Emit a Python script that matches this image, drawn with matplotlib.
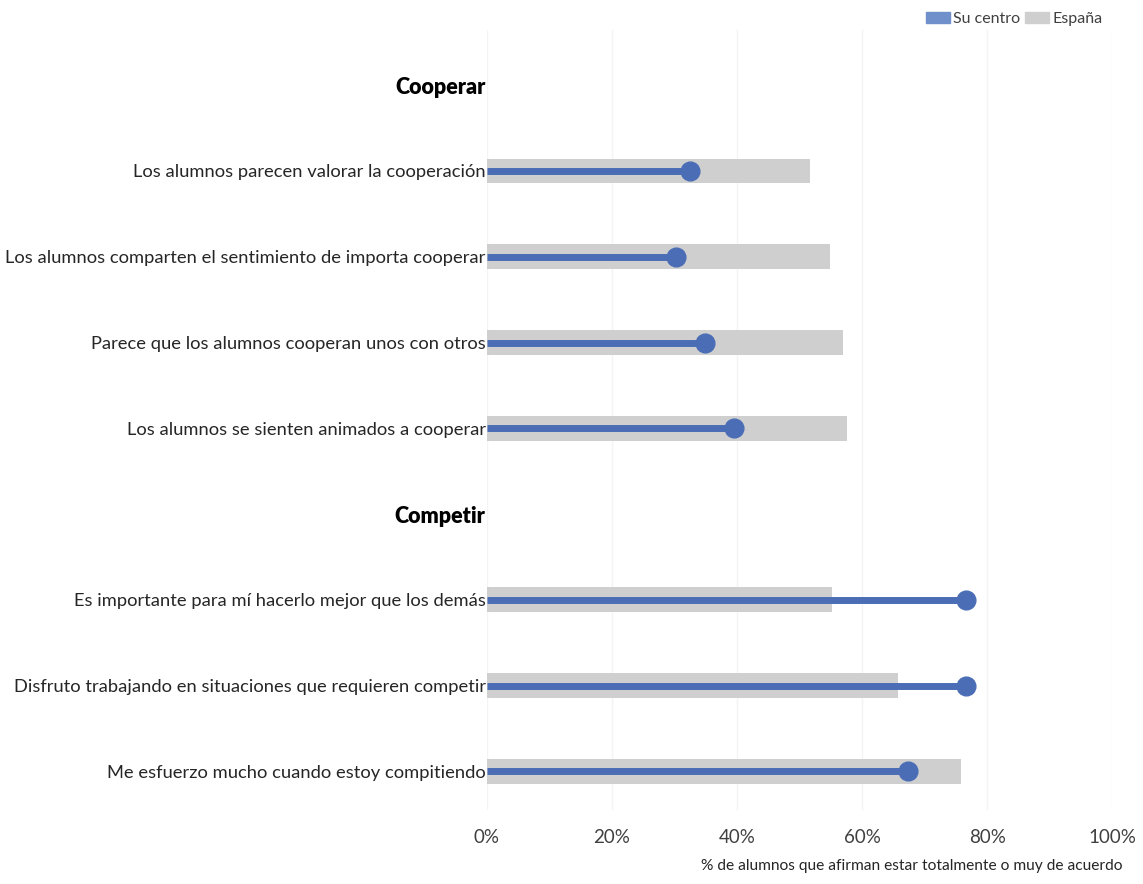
import matplotlib.pyplot as plt
import matplotlib.patches as mpatches
from matplotlib.ticker import PercentFormatter

plt.rcParams['font.family'] = ['Lato', 'DejaVu Sans']

# one slot per row, headers have no data
labels = ['Cooperar',
          'Los alumnos parecen valorar la cooperación',
          'Los alumnos comparten el sentimiento de importa cooperar',
          'Parece que los alumnos cooperan unos con otros',
          'Los alumnos se sienten animados a cooperar',
          'Competir',
          'Es importante para mí hacerlo mejor que los demás',
          'Disfruto trabajando en situaciones que requieren competir',
          'Me esfuerzo mucho cuando estoy compitiendo']
headers = ['Cooperar', 'Competir']
espana = [None, 51.7, 54.9, 57.0, 57.6, None, 55.2, 65.8, 75.8]
centro = [None, 32.5, 30.2, 34.9, 39.5, None, 76.6, 76.6, 67.4]
xticks = [0, 20, 40, 60, 80, 100]

blue = '#4A6DB5'
grey = '#CFCFCF'
text_col = '#262626'

fig = plt.figure(figsize=(11.43, 8.84), dpi=100)
ax = fig.add_axes([0.426, 0.0837, 0.547, 0.882])

rows = [i for i, v in enumerate(espana) if v is not None]
ax.barh(rows, [espana[i] for i in rows], height=0.29, color=grey, zorder=2)
ax.hlines(rows, 0, [centro[i] for i in rows], color=blue, lw=5, zorder=3)
ax.plot([centro[i] for i in rows], rows, 'o', color=blue, ms=13.5, zorder=4)

ax.set_xlim(0, 100)
ax.set_ylim(8.45, -0.64)
ax.set_xticks(xticks)
ax.xaxis.set_major_formatter(PercentFormatter(decimals=0))
ax.set_yticks(range(len(labels)))
ax.set_yticklabels(labels)
for t in ax.get_yticklabels():
    if t.get_text() in headers:
        t.set_fontweight('heavy')
        t.set_fontsize(15.5)
        t.set_color('black')
    else:
        t.set_fontsize(13.2)
        t.set_color(text_col)
ax.tick_params(axis='y', length=0, pad=1)
ax.tick_params(axis='x', length=0, pad=14, labelsize=13.5, labelcolor='#404040')

ax.grid(axis='x', color='#F4F4F4', lw=1, zorder=0)
for s in ax.spines.values():
    s.set_visible(False)

fig.text(0.982, 0.012, '% de alumnos que afirman estar totalmente o muy de acuerdo',
         ha='right', va='bottom', fontsize=11.2, color=text_col)

handles = [mpatches.Patch(color='#7090CC', label='Su centro'),
           mpatches.Patch(color=grey, label='España')]
fig.legend(handles=handles, loc='upper right', bbox_to_anchor=(0.977, 1.003), ncol=2,
           frameon=False, handlelength=1.5, handleheight=0.7,
           handletextpad=0.2, columnspacing=0.3, labelcolor='#404040',
           prop={'size': 11.5})

fig.savefig('out.png', dpi=100)
